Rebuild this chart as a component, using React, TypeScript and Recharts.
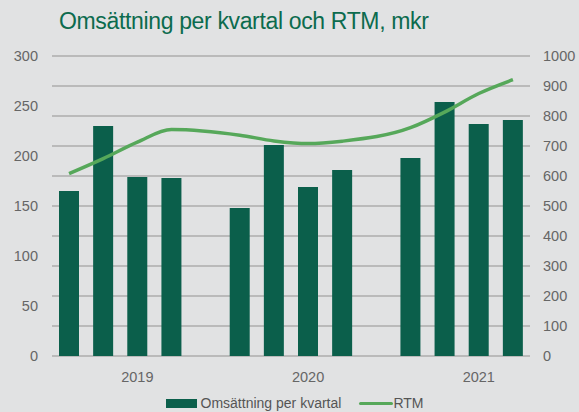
import {
  ComposedChart,
  Bar,
  Line,
  XAxis,
  YAxis,
  CartesianGrid,
  Legend,
} from "recharts";

// one slot per quarter, with an empty slot between the years
const slots = [
  "2019 K1", "2019 K2", "2019 K3", "2019 K4", "gap 2019",
  "2020 K1", "2020 K2", "2020 K3", "2020 K4", "gap 2020",
  "2021 K1", "2021 K2", "2021 K3", "2021 K4",
];
const revenue = [165, 230, 179, 178, null, 148, 211, 169, 186, null, 198, 254, 232, 236];
const rtm = [608, 658, 713, 755, null, 736, 717, 708, 716, null, 761, 813, 875, 921];
const leftTicks = [0, 50, 100, 150, 200, 250, 300];
const rightTicks = [0, 100, 200, 300, 400, 500, 600, 700, 800, 900, 1000];

const data = slots.map((q, i) => ({ q, revenue: revenue[i], rtm: rtm[i] }));

const BAR = "#0b5f4b";
const LINE = "#56a85a";
const TEXT = "#666666";
const FONT = "'Liberation Sans', Arial, sans-serif";

// year shown under the third quarter of each group
const yearLabel = (q: string) => (q.endsWith("K3") ? q.slice(0, 4) : "");

function LegendContent(props: any) {
  const items = props.payload || [];
  return (
    <div
      style={{
        display: "flex",
        justifyContent: "center",
        alignItems: "center",
        fontFamily: FONT,
        fontSize: 14,
        lineHeight: "15px",
        color: "#555",
        paddingLeft: 28,
      }}
    >
      {items.map((it: any) => (
        <div key={it.value} style={{ display: "flex", alignItems: "center", marginRight: 18 }}>
          {it.type === "line" ? (
            <div style={{ width: 34, height: 3.5, background: it.color, borderRadius: 2 }} />
          ) : (
            <div style={{ width: 31, height: 9, background: it.color, marginRight: 4 }} />
          )}
          <span>{it.value}</span>
        </div>
      ))}
    </div>
  );
}

export default function App() {
  return (
    <div
      style={{
        position: "absolute",
        left: 0,
        top: 0,
        width: 579,
        height: 412,
        overflow: "hidden",
        background: "#e1e2e3",
      }}
    >
      <div
        style={{
          position: "absolute",
          left: 59,
          top: 8,
          fontFamily: FONT,
          fontSize: 23,
          letterSpacing: -0.35,
          color: "#0c6b4e",
          whiteSpace: "nowrap",
        }}
      >
        Omsättning per kvartal och RTM, mkr
      </div>
      <ComposedChart
        width={579}
        height={412}
        data={data}
        margin={{ top: 56, right: 0, bottom: 26, left: 0 }}
        barSize={20}
      >
        <CartesianGrid
          vertical={false}
          yAxisId="right"
          stroke="#adadad"
          strokeWidth={1.5}
        />
        <XAxis
          dataKey="q"
          interval={0}
          height={30}
          axisLine={false}
          tickLine={false}
          tickSize={0}
          tickMargin={16}
          tickFormatter={yearLabel}
          tick={{ fill: TEXT, fontSize: 14.5, fontFamily: FONT }}
        />
        <YAxis
          yAxisId="left"
          domain={[0, 300]}
          ticks={leftTicks}
          width={52}
          axisLine={false}
          tickLine={false}
          tickSize={0}
          tickMargin={14}
          tick={{ fill: TEXT, fontSize: 14.5, fontFamily: FONT }}
        />
        <YAxis
          yAxisId="right"
          orientation="right"
          domain={[0, 1000]}
          ticks={rightTicks}
          width={49}
          axisLine={false}
          tickLine={false}
          tickSize={0}
          tickMargin={13}
          tick={{ fill: TEXT, fontSize: 14.5, fontFamily: FONT, textAnchor: "start" }}
        />
        <Bar
          yAxisId="left"
          dataKey="revenue"
          name="Omsättning per kvartal"
          fill={BAR}
          isAnimationActive={false}
        />
        <Line
          yAxisId="right"
          dataKey="rtm"
          name="RTM"
          type="monotone"
          stroke={LINE}
          strokeWidth={3.5}
          dot={false}
          activeDot={false}
          connectNulls
          legendType="line"
          isAnimationActive={false}
        />
        <Legend
          verticalAlign="middle"
          layout="horizontal"
          align="center"
          wrapperStyle={{ top: 396, left: 0, width: 579 }}
          content={<LegendContent />}
        />
      </ComposedChart>
    </div>
  );
}
